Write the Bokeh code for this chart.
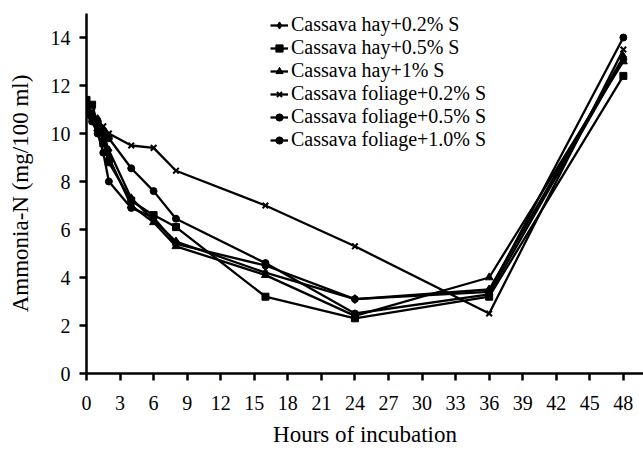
from bokeh.plotting import figure
from bokeh.models import FixedTicker, Range1d, Legend, LegendItem
from bokeh.embed import file_html
from bokeh.resources import INLINE

hours = [0, 0.5, 1, 1.5, 2, 4, 6, 8, 16, 24, 36, 48]
series_names = [
    "Cassava hay+0.2% S",
    "Cassava hay+0.5% S",
    "Cassava hay+1% S",
    "Cassava foliage+0.2% S",
    "Cassava foliage+0.5% S",
    "Cassava foliage+1.0% S",
]
hay_02 = [11.0, 10.8, 10.6, 10.0, 9.3, 7.3, 6.4, 5.5, 4.2, 3.1, 3.5, 13.2]
hay_05 = [11.4, 11.2, 10.4, 9.6, 8.8, 7.2, 6.6, 6.1, 3.2, 2.3, 3.2, 12.4]
hay_10 = [10.9, 10.7, 10.2, 9.8, 9.0, 7.0, 6.3, 5.3, 4.1, 2.4, 4.0, 13.0]
fol_02 = [11.2, 10.9, 10.5, 10.3, 10.0, 9.5, 9.4, 8.45, 7.0, 5.3, 2.5, 13.5]
fol_05 = [11.1, 10.7, 10.3, 10.1, 9.8, 8.55, 7.6, 6.45, 4.6, 2.5, 3.3, 13.1]
fol_10 = [10.8, 10.5, 10.0, 9.2, 8.0, 6.9, 6.5, 5.4, 4.5, 3.1, 3.4, 14.0]
all_series = [hay_02, hay_05, hay_10, fol_02, fol_05, fol_10]
markers = ["diamond", "square", "triangle", "x", "circle", "circle"]
marker_sizes = [9, 7, 8, 8, 7, 7]
x_ticks = list(range(0, 49, 3))
y_ticks = list(range(0, 15, 2))

FONT = "Liberation Serif"

p = figure(width=643, height=450, output_backend="svg", toolbar_location=None,
           x_range=Range1d(0, 49.8), y_range=Range1d(0, 15))
p.min_border_left = 86
p.min_border_right = 0
p.min_border_top = 13
p.min_border_bottom = 77
p.outline_line_color = None
p.grid.visible = False
p.background_fill_color = "white"
p.border_fill_color = "white"

items = []
for name, vals, mk, ms in zip(series_names, all_series, markers, marker_sizes):
    r1 = p.line(hours, vals, line_color="black", line_width=2.3)
    r2 = p.scatter(hours, vals, marker=mk, size=ms, fill_color="black",
                   line_color="black", line_width=2 if mk == "x" else 1)
    items.append(LegendItem(label=name, renderers=[r1, r2]))

legend = Legend(items=items, location=(184, 222))
legend.background_fill_alpha = 0
legend.border_line_color = None
legend.label_text_font = FONT
legend.label_text_font_size = "20px"
legend.label_text_color = "black"
legend.spacing = 0
legend.padding = 0
legend.margin = 0
legend.label_height = 22
legend.glyph_height = 22
legend.glyph_width = 18
legend.label_standoff = 3
p.add_layout(legend, "center")

for ax in (p.xaxis[0], p.yaxis[0]):
    ax.axis_line_width = 2.5
    ax.major_tick_line_width = 2.5
    ax.major_tick_in = 0
    ax.major_tick_out = 7
    ax.minor_tick_line_color = None
    ax.major_label_text_font = FONT
    ax.major_label_text_font_size = "20px"
    ax.major_label_text_color = "black"
    ax.axis_label_text_font = FONT
    ax.axis_label_text_font_size = "23px"
    ax.axis_label_text_font_style = "normal"
    ax.axis_label_text_color = "black"

p.xaxis.ticker = FixedTicker(ticks=x_ticks)
p.yaxis.ticker = FixedTicker(ticks=y_ticks)
p.xaxis.axis_label = "Hours of incubation"
p.yaxis.axis_label = "Ammonia-N (mg/100 ml)"
p.xaxis.major_label_standoff = 15
p.yaxis.major_label_standoff = 9
p.xaxis.axis_label_standoff = 9
p.yaxis.axis_label_standoff = 15

open("out.html", "w").write(file_html(p, INLINE))
